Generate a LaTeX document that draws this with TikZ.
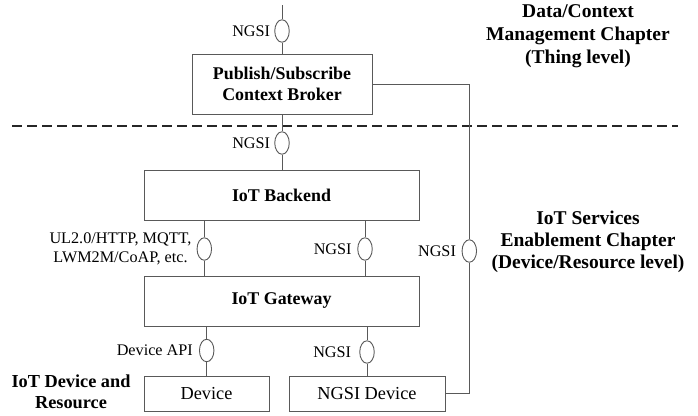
\documentclass[tikz,border=0pt]{standalone}
\usepackage{fontspec}
\setmainfont{Liberation Serif}
\usetikzlibrary{shapes.geometric,calc}
\begin{document}
\begin{tikzpicture}[x=1pt,y=-1pt,
  line/.style={draw=black!65,line width=0.9pt},
  box/.style={line,rectangle,inner sep=0pt,align=center,text=black},
  boldtxt/.style={font=\fontsize{17.9}{21}\selectfont\bfseries},
  normtxt/.style={font=\fontsize{18.3}{21}\selectfont},
  iface/.style={line,ellipse,minimum width=14.5pt,minimum height=22.5pt,inner sep=0pt,fill=white},
  ilabel/.style={font=\fontsize{16.2}{19}\selectfont,inner sep=0pt,align=center,anchor=east},
  heading/.style={font=\fontsize{19.5}{22.8}\selectfont\bfseries,align=center,inner sep=0pt},
  divider/.style={draw=black!85,line width=2pt,dash pattern=on 10pt off 5pt}
]
\useasboundingbox (0,0) rectangle (698,415);

% boxes
\node[box,boldtxt,minimum width=180pt,minimum height=60pt] (broker) at (282,84) {Publish/Subscribe\\Context Broker};
\node[box,boldtxt,minimum width=275pt,minimum height=50pt] (backend) at (281.5,195) {IoT Backend};
\node[box,boldtxt,minimum width=275pt,minimum height=50pt] (gateway) at (281.5,301) {IoT Gateway};
\node[box,normtxt,minimum width=125pt,minimum height=35pt] (device) at (206.5,393.5) {Device};
\node[box,normtxt,minimum width=156pt,minimum height=35pt] (ngsidev) at (367,393.5) {NGSI Device};

% dashed divider
\coordinate (dl) at (12,125.5);
\coordinate (dr) at (678,125.5);
\draw[divider] (dl) -- (dr);

% interfaces
\coordinate (top) at (282,5);
\node[iface] (e0) at (282,31) {};
\node[iface] (e1) at (282,143) {};
\node[iface] (e2) at (204.3,249) {};
\node[iface] (e3) at (365,249) {};
\node[iface] (eR) at (469.3,251) {};
\node[iface] (e4) at (206.7,350.5) {};
\node[iface] (e5) at (367,352) {};

% connectors
\draw[line] (top) -- (e0);
\draw[line] (e0) -- (broker.north);
\draw[line] (broker.south) -- (e1);
\draw[line] (e1) -- (backend.north -| e1);
\draw[line] (backend.south -| e2) -- (e2);
\draw[line] (e2) -- (gateway.north -| e2);
\draw[line] (backend.south -| e3) -- (e3);
\draw[line] (e3) -- (gateway.north -| e3);
\draw[line] (gateway.south -| e4) -- (e4);
\draw[line] (e4) -- (device.north -| e4);
\draw[line] (gateway.south -| e5) -- (e5);
\draw[line] (e5) -- (ngsidev.north -| e5);
\draw[line] (broker.east) -- (broker.east -| eR) -- (eR);
\draw[line] (eR) -- (eR |- ngsidev.east) -- (ngsidev.east);

% interface labels
\node[ilabel] (l0) at ([xshift=-4pt]e0.west) {NGSI};
\node[ilabel] (l1) at ([xshift=-4pt]e1.west) {NGSI};
\node[ilabel] (l2) at ([xshift=-5pt]e2.west) {UL2.0/HTTP, MQTT,\\LWM2M/CoAP, etc.};
\node[ilabel] (l3) at ([xshift=-5.5pt]e3.west) {NGSI};
\node[ilabel] (lR) at ([xshift=-5.5pt]eR.west) {NGSI};
\node[ilabel] (l4) at ([xshift=-6pt]e4.west) {Device API};
\node[ilabel] (l5) at ([xshift=-8pt]e5.west) {NGSI};

% headings
\node[heading] (h1) at (578,36) {Data/Context\\Management Chapter\\(Thing level)};
\node[heading,font=\fontsize{19.5}{21.7}\selectfont\bfseries] (h2) at (588,241.7) {IoT Services\\Enablement Chapter\\(Device/Resource level)};
\node[heading,font=\fontsize{18.3}{21}\selectfont\bfseries] (h3) at (71,392) {IoT Device and\\Resource};
\end{tikzpicture}
\end{document}
